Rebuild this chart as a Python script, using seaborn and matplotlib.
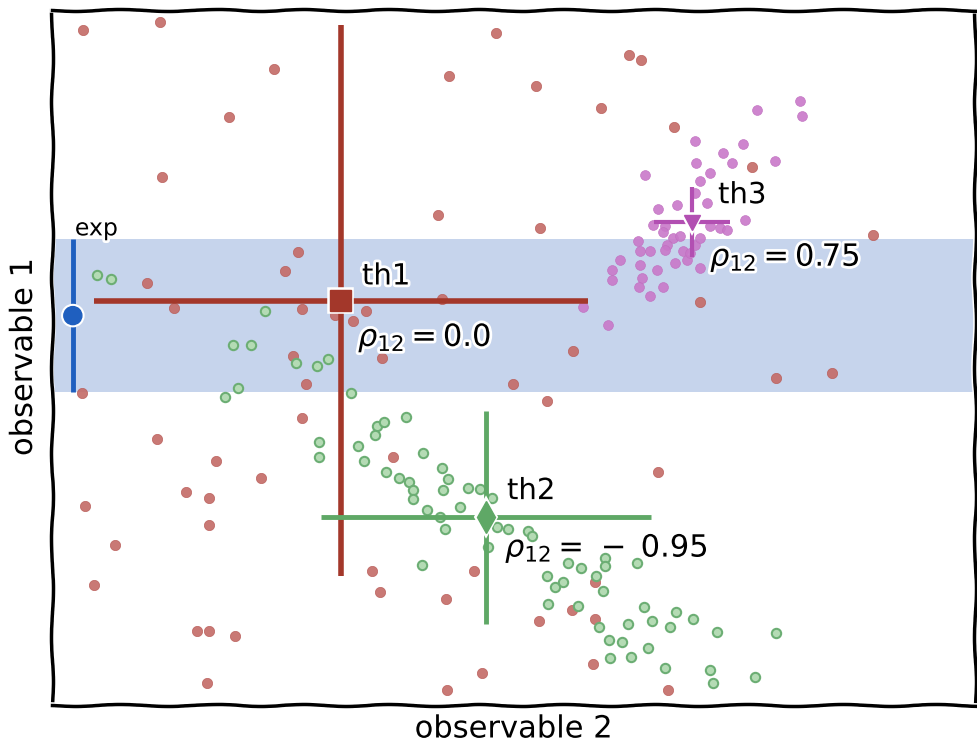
import matplotlib
matplotlib.use("Agg")
import matplotlib.pyplot as plt
import seaborn as sns

# background "red" points (uniform noise), data units
red_x = [31, 108, 222, 177, 110, 444, 397, 484, 577, 589, 549, 622, 700, 386, 488,
         246, 233, 95, 122, 250, 283, 301, 314, 241, 254, 250, 390, 521, 330, 461,
         495, 648, 724, 780, 821, 30, 105, 164, 209, 134, 157, 33, 157, 63, 42,
         145, 157, 183, 155, 341, 606, 320, 328, 422, 394, 487, 520, 543, 543, 541,
         430, 395, 616]
red_y = [673, 681, 634, 586, 526, 670, 627, 617, 648, 643, 595, 576, 536, 488, 475,
         451, 432, 421, 396, 395, 389, 383, 393, 348, 320, 286, 405, 353, 346, 320,
         303, 402, 326, 331, 468, 311, 265, 243, 226, 212, 206, 198, 179, 159, 119,
         74, 74, 69, 22, 247, 232, 133, 112, 133, 105, 84, 94, 86, 122, 41,
         32, 15, 15]

# th2 cloud (negative correlation)
green_x = [45, 59, 213, 181, 199, 244, 265, 276, 186, 173, 299, 267, 267, 306, 312,
           325, 323, 332, 354, 371, 334, 347, 357, 361, 361, 390, 396, 391, 416, 428,
           375, 388, 393, 408, 440, 445, 456, 476, 480, 370, 436, 495, 503, 511, 496,
           526, 529, 516, 553, 553, 544, 585, 551, 547, 592, 600, 624, 641, 665, 724,
           618, 576, 596, 570, 557, 558, 579, 613, 658, 661, 703]
green_y = [428, 424, 393, 359, 359, 341, 338, 345, 316, 307, 311, 262, 247, 258, 243,
           278, 269, 282, 287, 251, 232, 226, 222, 214, 205, 236, 225, 214, 216, 215,
           194, 187, 175, 197, 206, 177, 175, 173, 168, 139, 157, 128, 117, 122, 100,
           98, 136, 141, 146, 138, 128, 141, 113, 78, 97, 84, 92, 86, 73, 72,
           78, 81, 57, 63, 65, 47, 48, 37, 35, 22, 28]

# th3 cloud (positive correlation, tight)
purple_x = [748, 750, 705, 643, 691, 671, 723, 644, 680, 658, 593, 648, 643, 655, 606,
            625, 693, 601, 613, 611, 658, 668, 675, 621, 586, 615, 643, 598, 588, 631,
            613, 635, 568, 560, 588, 605, 590, 560, 587, 611, 598, 556, 531, 628, 648,
            638, 623, 648]
purple_y = [602, 587, 593, 562, 559, 550, 542, 540, 540, 530, 528, 522, 510, 500, 494,
            498, 483, 478, 477, 471, 477, 475, 473, 465, 462, 458, 458, 452, 452, 452,
            453, 443, 443, 433, 438, 433, 425, 423, 417, 417, 408, 379, 397, 467, 465,
            450, 440, 435]

# theory predictions: centre and half widths
th_names = ["th1", "th2", "th3"]
th_x = [289, 434, 640]
th_y = [403, 187, 481]
th_xerr = [247, 165, 38]
th_yerr = [275, 106, 35]
th_rho = ["0.0", "-0.95", "0.75"]

# measurement
exp_x = 21
exp_y = 388
exp_yerr = 76

plt.xkcd()
sns.set_style("white", {"axes.edgecolor": "black"})
plt.rcParams["font.family"] = ["DejaVu Sans"]
plt.rcParams["axes.linewidth"] = 2.5
plt.rcParams["text.color"] = "black"
plt.rcParams["axes.labelcolor"] = "black"


def straight(artist):
    # errorbars and the band are drawn without the hand-drawn wobble
    artist.set_sketch_params(None)


fig = plt.figure(figsize=(9.78, 7.45), dpi=100)
ax = fig.add_axes([0.053, 0.054, 0.944, 0.933])

band = ax.axhspan(exp_y - exp_yerr, exp_y + exp_yerr, color="#c6d4ec", zorder=0, lw=0)
straight(band)

sns.scatterplot(x=red_x, y=red_y, ax=ax, color="#c46a66", edgecolor="#b85a56",
                s=55, linewidth=0.5, alpha=0.9, zorder=2)
sns.scatterplot(x=green_x, y=green_y, ax=ax, color="#b4dbb4", edgecolor="#6cae74",
                s=45, linewidth=1.5, zorder=2)
sns.scatterplot(x=purple_x, y=purple_y, ax=ax, color="#c978c9", edgecolor="#c070c0",
                s=50, linewidth=0.5, alpha=0.9, zorder=2)

# theory crosses
th_style = [("s", "#a3372a", 15, 4), ("d", "#5fa866", 16, 3.5), ("v", "#b24fb2", 11, 3)]
for i in range(3):
    fmt, col, ms, lw = th_style[i]
    eb = ax.errorbar(th_x[i], th_y[i], xerr=th_xerr[i], yerr=th_yerr[i], fmt=fmt,
                     color=col, ms=ms, lw=lw, zorder=4)
    straight(eb[0])
    for coll in eb[2]:
        straight(coll)

# experiment
eb = ax.errorbar(exp_x, exp_y, yerr=exp_yerr, fmt="o", color="#1f5fbf", ms=13,
                 lw=3.5, zorder=4)
straight(eb[0])
for coll in eb[2]:
    straight(coll)
ax.text(exp_x + 2, exp_y + 87, "exp", fontsize=17, va="center", zorder=6)

# labels for the theories
name_off = [(21, 24), (21, 26), (26, 27)]
rho_off = [(17, -38), (19, -32), (18, -36)]
for i in range(3):
    ax.text(th_x[i] + name_off[i][0], th_y[i] + name_off[i][1], th_names[i],
            fontsize=21, va="center", zorder=6)
    rho = th_rho[i].replace("-", r"\,-\;")
    ax.text(th_x[i] + rho_off[i][0], th_y[i] + rho_off[i][1],
            r"$\rho_{12} = " + rho + "$", fontsize=22, va="center", zorder=6)

ax.set_xlim(0, 923)
ax.set_ylim(0, 693)
ax.set_xticks([])
ax.set_yticks([])
ax.set_xlabel("observable 2", fontsize=22, labelpad=7)
ax.set_ylabel("observable 1", fontsize=22, labelpad=10)

fig.savefig("out.png", dpi=100)
